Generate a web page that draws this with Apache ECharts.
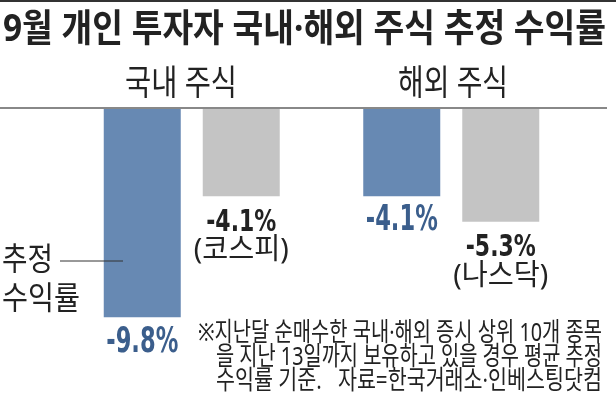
<!DOCTYPE html>
<html>
<head>
<meta charset="utf-8">
<script src="https://cdn.jsdelivr.net/npm/echarts@6/dist/echarts.min.js"></script>
<style>
  html, body { margin: 0; padding: 0; background: #fff; }
  #chart { width: 616px; height: 397px; }
</style>
</head>
<body>
<div id="chart"></div>
<script>
// 데이터
var groups = ['국내 주식', '해외 주식'];
var investorReturn = [-9.8, -4.1];   // 개인 투자자 추정 수익률
var indexReturn = [-4.1, -5.3];      // 지수 수익률
var indexNames = ['코스피', '나스닥'];

var titleText = '9월 개인 투자자 국내·해외 주식 추정 수익률';
var noteLines = [
  '※지난달 순매수한 국내·해외 증시 상위 10개 종목',
  '을 지난 13일까지 보유하고 있을 경우 평균 추정',
  '수익률 기준.   자료=한국거래소·인베스팅닷컴'
];

// 숫자·기호는 라틴 글꼴, 한글은 CJK 글꼴로
var KR = "'Noto Sans', 'Noto Sans CJK KR', sans-serif";
var NUM = "'Liberation Sans Narrow', 'DejaVu Sans Condensed', 'Liberation Sans', sans-serif";
var BLUE = '#6789b3';
var GRAY = '#c4c4c4';
var BAR_W = 77;
var BAR_GAP = 22;

var measureCtx = document.createElement('canvas').getContext('2d');
function measure(text, size, weight, family) {
  measureCtx.font = weight + ' ' + size + 'px ' + family;
  return measureCtx.measureText(text).width;
}
var NAME_SIZE = 29;
var nameScale = 95 / measure('(코스피)', NAME_SIZE, 'normal', KR);

// left, right: 글자가 차지하는 폭, cy: 세로 중심
function krText(text, left, right, cy, size, weight, color) {
  return {
    type: 'text',
    x: left,
    y: cy,
    scaleX: (right - left) / measure(text, size, weight, KR),
    z: 100,
    style: {
      text: text,
      fontSize: size,
      fontWeight: weight,
      fontFamily: KR,
      fill: color,
      align: 'left', textAlign: 'left',
      verticalAlign: 'middle', textVerticalAlign: 'middle'
    }
  };
}

// 막대 끝 아래의 값 라벨 (custom 시리즈, 좌표는 축에서 계산)
// dy: 막대 끝에서 숫자 중심까지, nameDy: 숫자 중심에서 이름 중심까지
function labelSeries(values, side, dy, size, width, color, names, nameDy) {
  var numScale = width / measure('-9.8%', size, 'bold', NUM);
  return {
    type: 'custom',
    z: 10,
    silent: true,
    data: values.map(function (v, i) { return [i, v]; }),
    renderItem: function (params, api) {
      var v = api.value(1);
      var p = api.coord([api.value(0), v]);
      var x = p[0] + side * (BAR_W + BAR_GAP) / 2;
      var y = p[1] + dy;
      var children = [{
        type: 'text',
        x: x,
        y: y,
        scaleX: numScale,
        style: {
          text: v.toFixed(1) + '%',
          fontFamily: NUM,
          fontWeight: 'bold',
          fontSize: size,
          fill: color,
          align: 'center', textAlign: 'center',
          verticalAlign: 'middle', textVerticalAlign: 'middle'
        }
      }];
      if (names) {
        children.push({
          type: 'text',
          x: x,
          y: y + nameDy,
          scaleX: nameScale,
          style: {
            text: '(' + names[params.dataIndex] + ')',
            fontFamily: KR,
            fontSize: NAME_SIZE,
            fill: color,
            align: 'center', textAlign: 'center',
            verticalAlign: 'middle', textVerticalAlign: 'middle'
          }
        });
      }
      return { type: 'group', children: children };
    }
  };
}

var chart = echarts.init(document.getElementById('chart'));

var option = {
  backgroundColor: '#fff',
  animation: false,
  grid: { left: 62, right: 35, top: 109, bottom: 33 },
  xAxis: {
    type: 'category',
    data: groups,
    show: false
  },
  yAxis: {
    type: 'value',
    min: -12,
    max: 0,
    show: false
  },
  series: [
    {
      name: '추정 수익률',
      type: 'bar',
      data: investorReturn,
      barWidth: BAR_W,
      barGap: (BAR_GAP / BAR_W * 100) + '%',
      itemStyle: { color: BLUE }
    },
    {
      name: '지수',
      type: 'bar',
      data: indexReturn,
      barWidth: BAR_W,
      itemStyle: { color: GRAY }
    },
    labelSeries(investorReturn, -1, 25, 36, 72, '#3b5e8c', null, 0),
    labelSeries(indexReturn, 1, 27, 30, 70, '#222', indexNames, 28)
  ],
  graphic: [
    // 맨 위 선
    { type: 'line', z: 100, shape: { x1: 0, y1: 1, x2: 616, y2: 1 }, style: { stroke: '#333', lineWidth: 2 } },
    // 기준선
    { type: 'line', z: 100, shape: { x1: 0, y1: 108, x2: 607, y2: 108 }, style: { stroke: '#888', lineWidth: 2 } },
    krText(titleText, 3, 606, 30, 38, 'bold', '#222'),
    krText(groups[0], 125, 237, 85, 35, 'normal', '#222'),
    krText(groups[1], 398, 508, 85, 35, 'normal', '#222'),
    krText('추정', 2, 53, 261, 32, 'normal', '#222'),
    krText('수익률', 2, 80, 300, 32, 'normal', '#222'),
    { type: 'line', z: 100, shape: { x1: 60, y1: 261, x2: 123, y2: 261 }, style: { stroke: '#333', lineWidth: 1 } },
    krText(noteLines[0], 198, 602, 334, 26, 'normal', '#222'),
    krText(noteLines[1], 216, 602, 358, 26, 'normal', '#222'),
    krText(noteLines[2], 216, 602, 382, 26, 'normal', '#222')
  ]
};

chart.setOption(option);
</script>
</body>
</html>
